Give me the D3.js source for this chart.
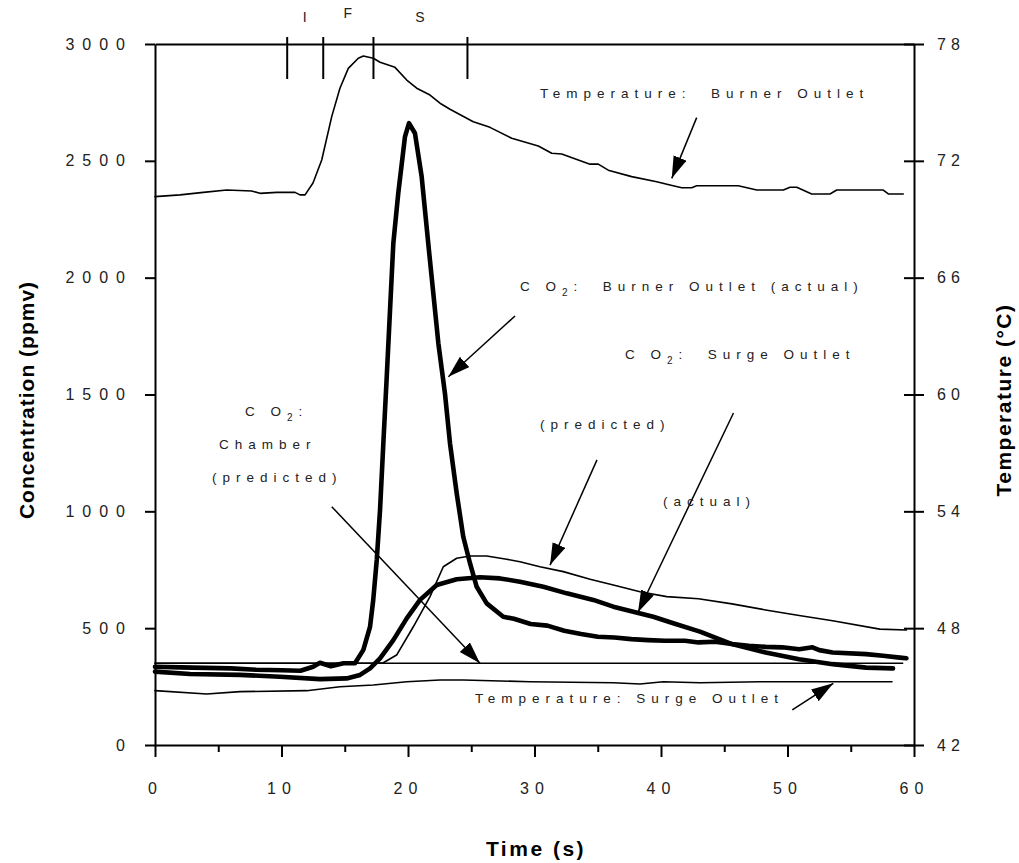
<!DOCTYPE html>
<html><head><meta charset="utf-8">
<script src="https://cdn.jsdelivr.net/npm/d3@7"></script>
<style>body{margin:0;background:#fff}svg{display:block}</style>
</head><body><svg id="c" width="1019" height="863"></svg>
<script>
// ---------- data ----------
const timeTicks = [0,5,10,15,20,25,30,35,40,45,50,55,60];
const concTicks = [0,500,1000,1500,2000,2500,3000];
const tempTicks = [42,48,54,60,66,72,78];
const eventTimes = [10.41,13.26,17.23,24.66];
const eventLabels = ["I","F","S"];

// [time (s), temperature (°C)]
const tempBurner = [[0,70.16],[1.98,70.25],[3.82,70.38],[5.67,70.5],[7.64,70.45],[8.3,70.33],[9.62,70.38],[11.07,70.38],[11.46,70.25],[11.86,70.25],[12.49,70.86],[13.18,72.04],[13.97,74.27],[14.62,75.73],[15.28,76.75],[16.07,77.27],[16.47,77.38],[17.26,77.27],[17.79,77.06],[18.97,76.8],[19.9,76.15],[20.69,75.73],[21.74,75.38],[22.53,74.96],[23.32,74.65],[25.16,74.01],[26.48,73.72],[28.2,73.16],[30.3,72.76],[31.36,72.39],[32.15,72.35],[34.39,71.83],[35.04,71.83],[35.83,71.52],[37.68,71.19],[39.66,70.93],[40.71,70.76],[41.64,70.62],[42.43,70.62],[42.82,70.72],[46.11,70.72],[47.57,70.5],[49.67,70.5],[50.2,70.64],[50.73,70.64],[51.91,70.3],[53.36,70.3],[53.89,70.5],[57.57,70.5],[57.97,70.3],[59.15,70.3]];
const tempSurge = [[0,44.79],[4.09,44.62],[6.72,44.74],[11.99,44.79],[14.62,44.99],[17.26,45.08],[19.9,45.25],[22.53,45.34],[24.37,45.34],[29.64,45.25],[36.23,45.2],[38.34,45.13],[40.18,45.25],[43.08,45.2],[47.83,45.25],[58.26,45.25]];

// [time (s), CO2 (ppmv)]
const co2BurnerActual = [[0,335],[2,332],[4,330],[6,328],[8,322],[10,320],[11.5,318],[12.5,335],[13.04,352],[13.9,337],[14.9,350],[15.81,350],[16.47,407],[17.0,506],[17.25,620],[17.53,792],[17.79,1006],[18.05,1291],[18.32,1576],[18.58,1862],[18.84,2147],[19.23,2361],[19.76,2603],[20.08,2661],[20.55,2618],[21.08,2432],[21.6,2147],[22.0,1933],[22.4,1719],[22.92,1505],[23.32,1291],[23.85,1077],[24.37,891],[24.9,778],[25.43,677],[26.22,606],[27.53,549],[28.37,540],[29.7,518],[31.02,511],[32.35,489],[33.68,475],[35.0,463],[36.33,460],[37.65,453],[38.98,449],[40.31,446],[41.9,446],[42.96,439],[44.28,442],[45.61,432],[46.94,425],[48.27,420],[49.59,418],[50.92,410],[51.98,418],[52.51,406],[53.57,396],[56.22,389],[57.55,382],[58.88,374],[59.4,371]];
const co2SurgeActual = [[0,314],[2.77,304],[6.72,300],[9.88,292],[13.04,282],[15.15,285],[16.21,300],[17.0,328],[17.79,371],[18.84,449],[19.9,542],[20.95,621],[22.27,685],[23.85,709],[25.69,718],[27.27,713],[28.85,699],[30.7,677],[32.55,649],[34.65,621],[36.23,592],[37.81,570],[39.39,549],[40.97,521],[43.08,485],[45.61,432],[48.27,396],[50.92,367],[53.57,346],[56.22,331],[58.34,328]];
const co2SurgePredicted = [[0,350],[17.5,350],[18.05,352],[19.1,385],[20.42,506],[21.74,635],[22.79,763],[23.85,799],[24.9,809],[26.22,809],[27.8,795],[28.85,784],[30.43,763],[32.28,742],[34.39,709],[36.23,685],[38.34,656],[40.45,635],[42.96,626],[45.61,604],[48.27,578],[50.92,554],[53.57,532],[57.29,496],[59.4,492]];
const co2ChamberPredicted = [[0,350],[59.1,350]];

// annotation texts and arrows (in data units: time, ppmv)
const labels = [
  {parts:[["Temperature:  Burner Outlet"]], t:30.43, c:2769},
  {parts:[["C O"],["2","sub"],[":  Burner Outlet (actual)"]], t:28.85, c:1943},
  {parts:[["C O"],["2","sub"],[":  Surge Outlet"]], t:37.15, c:1652},
  {parts:[["(predicted)"]], t:30.43, c:1352},
  {parts:[["(actual)"]], t:40.16, c:1023},
  {parts:[["C O"],["2","sub"],[":"]], t:7.11, c:1408},
  {parts:[["Chamber"]], t:5.06, c:1267},
  {parts:[["(predicted)"]], t:4.5, c:1125},
  {parts:[["Temperature: Surge Outlet"]], t:25.3, c:180}
];
const arrows = [
  [[42.82,2685],[40.85,2425]],
  [[28.46,1836],[23.19,1576]],
  [[34.94,1220],[31.23,770]],
  [[45.73,1421],[38.18,568]],
  [[13.97,1020],[25.69,350]],
  [[50.38,150],[53.62,264]]
];

// ---------- drawing ----------
const svg = d3.select("#c");
const x = d3.scaleLinear([0,60],[155,914]);
const yL = d3.scaleLinear([0,3000],[745,44]);
const yR = d3.scaleLinear([42,78],[745,44]);
const FONT = "'Liberation Sans', Arial, Helvetica, sans-serif";

svg.append("defs").append("marker")
  .attr("id","ah").attr("markerUnits","userSpaceOnUse")
  .attr("markerWidth",24).attr("markerHeight",16)
  .attr("refX",22).attr("refY",7).attr("orient","auto")
  .append("path").attr("d","M0,0 L22,7 L0,14 Z").attr("fill","#000");

// left axis
const gL = svg.append("g").attr("transform",`translate(${x(0)},0)`)
  .call(d3.axisLeft(yL).tickValues(concTicks).tickSize(10).tickSizeOuter(0).tickPadding(12).tickFormat(d => String(d)));
gL.selectAll("text").attr("font-family",FONT).attr("font-size",16).attr("letter-spacing","8px").attr("fill","#222");

// right axis
const gR = svg.append("g").attr("transform",`translate(${x(60)},0)`)
  .call(d3.axisRight(yR).tickValues(tempTicks).tickSize(10).tickSizeOuter(0).tickPadding(13).tickFormat(d => String(d)));
gR.selectAll(".tick line").attr("x1",-10);
gR.selectAll("text").attr("font-family",FONT).attr("font-size",16).attr("letter-spacing","5px").attr("fill","#222");

// bottom axis
const gB = svg.append("g").attr("transform",`translate(0,${yL(0)})`)
  .call(d3.axisBottom(x).tickValues(timeTicks).tickSize(12).tickSizeOuter(0).tickPadding(26)
    .tickFormat(d => d % 10 === 0 ? String(d) : ""));
gB.selectAll(".tick line").attr("y2", d => d % 10 === 0 ? 12 : 7);
gB.selectAll("text").attr("font-family",FONT).attr("font-size",16).attr("letter-spacing","6px").attr("fill","#222");

// top axis line with event markers
const gT = svg.append("g").attr("transform",`translate(0,${yL(3000)})`)
  .call(d3.axisTop(x).tickValues(eventTimes).tickSize(7).tickSizeOuter(0).tickFormat(""));
gT.selectAll(".tick line").attr("y2",-7).attr("y1",35);
[gL,gR,gB,gT].forEach(g => {
  g.select(".domain").attr("stroke-width",2).attr("stroke","#000");
  g.selectAll(".tick line").attr("stroke-width",2).attr("stroke","#000");
});
svg.append("g").selectAll("text").data(eventLabels).join("text")
  .attr("x",(d,i)=>x((eventTimes[i]+eventTimes[i+1])/2))
  .attr("y",(d,i)=> d==="F" ? 18 : 22)
  .attr("text-anchor","middle").attr("font-family",FONT).attr("font-size",14).attr("fill","#222")
  .text(d=>d);

// axis titles
svg.append("text").attr("transform",`translate(34,400) rotate(-90)`)
  .attr("text-anchor","middle").attr("font-family",FONT).attr("font-weight","bold")
  .attr("font-size",21).attr("letter-spacing","1px").text("Concentration (ppmv)");
svg.append("text").attr("transform",`translate(1011,400) rotate(-90)`)
  .attr("text-anchor","middle").attr("font-family",FONT).attr("font-weight","bold")
  .attr("font-size",21).attr("letter-spacing","1.5px").text("Temperature (°C)");
svg.append("text").attr("x",536).attr("y",856)
  .attr("text-anchor","middle").attr("font-family",FONT).attr("font-weight","bold")
  .attr("font-size",21).attr("letter-spacing","2.5px").text("Time (s)");

// series
const lineL = d3.line().x(d=>x(d[0])).y(d=>yL(d[1]));
const lineR = d3.line().x(d=>x(d[0])).y(d=>yR(d[1]));
const series = [
  {d:co2ChamberPredicted, f:lineL, w:1.6},
  {d:tempSurge, f:lineR, w:1.6},
  {d:tempBurner, f:lineR, w:1.6},
  {d:co2SurgePredicted, f:lineL, w:1.6},
  {d:co2SurgeActual, f:lineL, w:4.6},
  {d:co2BurnerActual, f:lineL, w:4.6}
];
svg.append("g").selectAll("path").data(series).join("path")
  .attr("d", s => s.f(s.d)).attr("fill","none").attr("stroke","#000")
  .attr("stroke-width", s => s.w).attr("stroke-linejoin","round").attr("stroke-linecap","round");

// arrows
svg.append("g").selectAll("line").data(arrows).join("line")
  .attr("x1",d=>x(d[0][0])).attr("y1",d=>yL(d[0][1]))
  .attr("x2",d=>x(d[1][0])).attr("y2",d=>yL(d[1][1]))
  .attr("stroke","#000").attr("stroke-width",1.5).attr("marker-end","url(#ah)");

// annotation labels
const lab = svg.append("g").selectAll("text").data(labels).join("text")
  .attr("x",d=>x(d.t)).attr("y",d=>yL(d.c))
  .attr("font-family",FONT).attr("font-size",13.5).attr("letter-spacing","6px").attr("fill","#222")
  .style("white-space","pre");
lab.each(function(d){
  const t = d3.select(this);
  let shifted = false;
  d.parts.forEach(p => {
    const ts = t.append("tspan").text(p[0]);
    if (p[1] === "sub") { ts.attr("font-size",10).attr("dy",5); shifted = true; }
    else if (shifted) { ts.attr("dy",-5); shifted = false; }
  });
});
</script>
</body></html>
